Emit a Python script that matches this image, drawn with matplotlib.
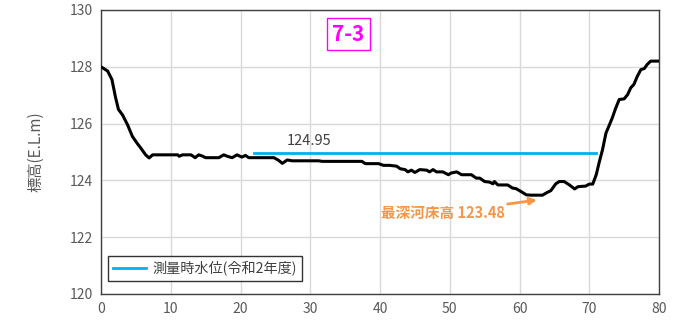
import matplotlib
matplotlib.use("Agg")
import matplotlib.pyplot as plt

plt.rcParams['font.family'] = ['Noto Sans CJK JP', 'DejaVu Sans']

# Cross-section profile: distance (m) and bed elevation (E.L.m)
distance = [0, 0.95, 1.57, 2.05, 2.5, 3.1, 3.8, 4.5, 5.2, 5.7, 6.4, 6.9, 7.4, 11, 11.2, 11.7,
            12.9, 13.5, 14, 14.5, 15, 16.9, 17.6, 18.1, 18.8, 19.5, 20.2, 20.7, 21.2, 24.8,
            25.5, 26, 26.7, 27.4, 31.2, 31.7, 37.4, 37.9, 39.8, 40.5, 41.4, 42.4, 42.9, 43.6,
            44, 44.5, 45, 45.7, 46.7, 47.1, 47.6, 48.1, 49, 49.8, 50.2, 51, 51.7, 53.1, 53.8,
            54.3, 55, 55.7, 56.2, 56.4, 56.9, 58.3, 59, 59.5, 60.2, 61, 61.7, 63.3, 64, 64.5,
            65.2, 65.7, 66.4, 67.1, 67.9, 68.4, 69.5, 70, 70.5, 71, 71.4, 71.9, 72.4, 72.9,
            73.3, 73.8, 74.3, 75, 75.5, 75.95, 76.4, 76.9, 77.4, 77.9, 78.3, 78.8, 79.8, 80]
elevation = [128.0, 127.85, 127.55, 126.96, 126.5, 126.3, 125.96, 125.55, 125.3, 125.14, 124.9,
             124.79, 124.9, 124.9, 124.85, 124.9, 124.9, 124.8, 124.9, 124.86, 124.8, 124.8,
             124.9, 124.85, 124.8, 124.9, 124.82, 124.88, 124.8, 124.8, 124.7, 124.6, 124.72,
             124.69, 124.69, 124.67, 124.67, 124.59, 124.59, 124.53, 124.53, 124.5, 124.41,
             124.38, 124.3, 124.36, 124.28, 124.38, 124.36, 124.3, 124.38, 124.3, 124.3, 124.2,
             124.26, 124.3, 124.2, 124.2, 124.08, 124.08, 123.96, 123.94, 123.88, 123.96,
             123.84, 123.84, 123.73, 123.71, 123.61, 123.49, 123.48, 123.48, 123.58, 123.64,
             123.88, 123.96, 123.96, 123.85, 123.7, 123.78, 123.8, 123.87, 123.87, 124.2,
             124.61, 125.08, 125.67, 125.96, 126.2, 126.55, 126.85, 126.87, 127.02, 127.26,
             127.38, 127.67, 127.9, 127.94, 128.08, 128.2, 128.2, 128.2]

# Water level at survey time
water_x = [22, 71]
water_level = 124.95
deepest_bed = 123.48
deepest_x = 62.5

section_name = "7-3"
legend_label = "測量時水位(令和2年度)"
y_label = "標高(E.L.m)"

fig = plt.figure(figsize=(6.74, 3.35), dpi=100)
ax = fig.add_axes([101/674, 1 - 294/335, 558/674, 284/335])

ax.plot(water_x, [water_level, water_level], color='#00B0F0', lw=2, label=legend_label, zorder=3)
ax.plot(distance, elevation, color='black', lw=2.2, zorder=4)

ax.set_xlim(0, 80)
ax.set_ylim(120, 130)
ax.set_xticks(range(0, 81, 10))
ax.set_yticks(range(120, 131, 2))
ax.grid(True, color='#D9D9D9', lw=1)
ax.set_axisbelow(True)
for s in ax.spines.values():
    s.set_color('#404040')
    s.set_linewidth(1)
ax.tick_params(length=0, labelsize=10, colors='#595959', pad=6)
ax.set_ylabel(y_label, fontsize=11, color='#595959', labelpad=18)

ax.text(29.8, water_level + 0.45, f"{water_level:.2f}", fontsize=10.5, color='#404040',
        ha='center', va='center')

ax.text(0.443, 0.915, section_name, transform=ax.transAxes, fontsize=15, fontweight='bold',
        color='#FF00FF', ha='center', va='center',
        bbox=dict(boxstyle='square,pad=0.25', fc='white', ec='#FF00FF', lw=1))

ax.annotate(f"最深河床高 {deepest_bed:.2f}", xy=(deepest_x, deepest_bed - 0.17),
            xytext=(57.9, 122.85), fontsize=10.5, fontweight='bold', color='#F79646',
            ha='right', va='center',
            arrowprops=dict(arrowstyle='-|>', color='#F79646', lw=2, mutation_scale=10,
                            shrinkA=0, shrinkB=0))

leg = ax.legend(loc='lower left', bbox_to_anchor=(0.0, 0.02), fontsize=10.2, frameon=True,
                fancybox=False, edgecolor='black', handlelength=2.3, borderpad=0.35,
                handletextpad=0.5)
leg.get_frame().set_linewidth(1)
for t in leg.get_texts():
    t.set_color('#404040')

fig.savefig('out.png', dpi=100)
